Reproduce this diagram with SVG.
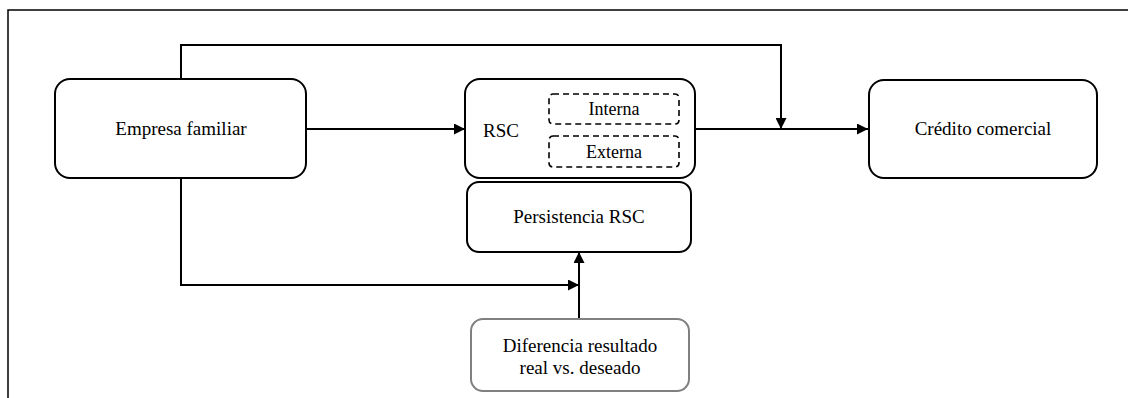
<svg xmlns="http://www.w3.org/2000/svg" width="1128" height="398" viewBox="0 0 1128 398">
<style>
.box{fill:#fff;stroke:#000;stroke-width:2}
.gbox{fill:#fff;stroke:#808080;stroke-width:2}
.dash{fill:none;stroke:#000;stroke-width:1.6;stroke-dasharray:6 4}
text{font-family:'Liberation Serif','DejaVu Serif',serif;fill:#000}
.t{font-size:19px;text-anchor:middle}
.ts{font-size:18px;text-anchor:middle}
.c{fill:none;stroke:#000;stroke-width:2}
</style>
<defs>
<marker id="arr" viewBox="0 0 10 10" refX="10" refY="5" markerWidth="11" markerHeight="11" markerUnits="userSpaceOnUse" orient="auto">
<path d="M0,0 L10,5 L0,10 Z" fill="#000"/>
</marker>
</defs>
<path d="M8,398 V10 H1128" fill="none" stroke="#000" stroke-width="1.5"/>
<g id="connectors">
<path class="c" d="M181,79 V45 H781 V129" marker-end="url(#arr)"/>
<path class="c" d="M306,129 H465" marker-end="url(#arr)"/>
<path class="c" d="M695,129 H868" marker-end="url(#arr)"/>
<path class="c" d="M181,178 V285 H579" marker-end="url(#arr)"/>
<path class="c" d="M579,319 V252" marker-end="url(#arr)"/>
</g>
<g id="empresa">
<rect class="box" x="55" y="79" width="251" height="99" rx="15"/>
<text class="t" x="181" y="135">Empresa familiar</text>
</g>
<g id="rsc">
<rect class="box" x="465" y="79" width="230" height="99" rx="15"/>
<text x="483" y="137" font-size="19">RSC</text>
<rect class="dash" x="549" y="94" width="130" height="30" rx="4"/>
<text class="ts" x="614" y="115">Interna</text>
<rect class="dash" x="549" y="136" width="130" height="31" rx="4"/>
<text class="ts" x="614" y="158">Externa</text>
</g>
<g id="persistencia">
<rect class="box" x="467" y="182" width="224" height="70" rx="12"/>
<text class="t" x="579" y="223">Persistencia RSC</text>
</g>
<g id="credito">
<rect class="box" x="869" y="80" width="228" height="98" rx="15"/>
<text class="t" x="983" y="135">Crédito comercial</text>
</g>
<g id="diferencia">
<rect class="gbox" x="471" y="319" width="218" height="72" rx="12"/>
<text class="t" x="580" y="352">Diferencia resultado</text>
<text class="t" x="580" y="374">real vs. deseado</text>
</g>
</svg>
